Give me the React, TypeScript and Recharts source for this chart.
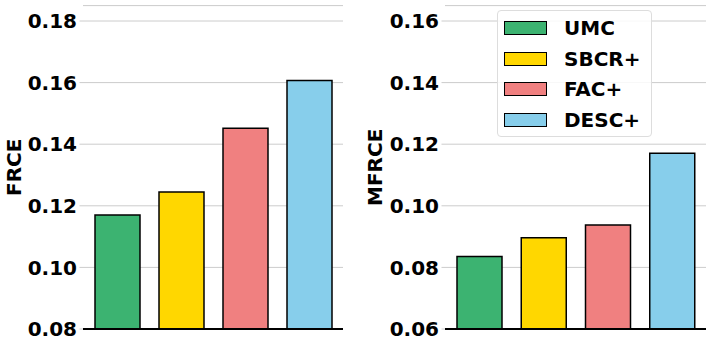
import React from 'react';
import { BarChart, Bar, XAxis, YAxis, CartesianGrid, Cell } from 'recharts';

const categories = ['UMC', 'SBCR+', 'FAC+', 'DESC+'];
const frceValues = [0.117, 0.1245, 0.1452, 0.1607];
const mfrceValues = [0.0835, 0.0896, 0.0938, 0.1171];
const colors = ['#3CB371', '#FFD700', '#F08080', '#87CEEB'];
const frceTicks = [0.08, 0.1, 0.12, 0.14, 0.16, 0.18];
const mfrceTicks = [0.06, 0.08, 0.1, 0.12, 0.14, 0.16];

const FONT = '"DejaVu Sans", sans-serif';

const frceData = categories.map((name, i) => ({ name, value: frceValues[i] }));
const mfrceData = categories.map((name, i) => ({ name, value: mfrceValues[i] }));

const tickStyle = { fontSize: 20, fontWeight: 'bold', fill: '#000', fontFamily: FONT };

function AxisLabel(props: any) {
  const { viewBox, value, cx } = props;
  const y = viewBox.y + viewBox.height / 2;
  return (
    <text
      x={cx}
      y={y}
      transform={`rotate(-90, ${cx}, ${y})`}
      textAnchor="middle"
      dominantBaseline="central"
      style={{ fontSize: 20, fontWeight: 'bold', fill: '#000', fontFamily: FONT }}
    >
      {value}
    </text>
  );
}

function LegendBox() {
  return (
    <div
      style={{
        position: 'absolute',
        left: 497,
        top: 10,
        width: 155,
        height: 127,
        border: '1px solid #ddd',
        borderRadius: 4,
        background: 'rgba(255,255,255,0.85)',
        boxSizing: 'border-box',
        paddingTop: 2,
      }}
    >
      {categories.map((c, i) => (
        <div key={c} style={{ display: 'flex', alignItems: 'center', height: 30.5 }}>
          <div
            style={{
              marginLeft: 6,
              width: 43,
              height: 14,
              background: colors[i],
              border: '1.5px solid #000',
              boxSizing: 'border-box',
            }}
          />
          <span
            style={{
              marginLeft: 17,
              fontSize: 20,
              fontWeight: 'bold',
              fontFamily: FONT,
              color: '#000',
              lineHeight: '20px',
            }}
          >
            {c}
          </span>
        </div>
      ))}
    </div>
  );
}

function Panel(props: {
  data: { name: string; value: number }[];
  domain: [number, number];
  ticks: number[];
  label: string;
  yWidth: number;
  rightMargin: number;
  labelX: number;
}) {
  const { data, domain, ticks, label, yWidth, rightMargin, labelX } = props;
  return (
    <BarChart
      width={355}
      height={347}
      data={data}
      margin={{ top: 5.6, right: rightMargin, bottom: 17, left: 0 }}
    >
      <CartesianGrid vertical={false} stroke="#cccccc" strokeWidth={1} />
      <XAxis
        dataKey="name"
        tick={false}
        tickLine={false}
        height={1}
        padding={{ left: 2, right: 2 }}
        axisLine={{ stroke: '#000', strokeWidth: 2 }}
      />
      <YAxis
        domain={domain}
        ticks={ticks}
        allowDataOverflow
        width={yWidth}
        axisLine={false}
        tickLine={{ stroke: '#cccccc', strokeWidth: 1 }}
        tickSize={3.5}
        tickMargin={2.5}
        tick={tickStyle}
        tickFormatter={(v: number) => v.toFixed(2)}
        label={<AxisLabel value={label} cx={labelX} />}
      />
      <Bar dataKey="value" barSize={45} stroke="#000" strokeWidth={1.5} isAnimationActive={false}>
        {data.map((d, i) => (
          <Cell key={d.name} fill={colors[i]} />
        ))}
      </Bar>
    </BarChart>
  );
}

export default function App() {
  return (
    <div style={{ position: 'absolute', left: 0, top: 0, width: 710, height: 347, background: '#fff' }}>
      <div style={{ position: 'absolute', left: 0, top: 0 }}>
        <Panel
          data={frceData}
          domain={[0.08, 0.185]}
          ticks={frceTicks}
          label="FRCE"
          yWidth={83}
          rightMargin={12}
          labelX={14.5}
        />
      </div>
      <div style={{ position: 'absolute', left: 355, top: 0 }}>
        <Panel
          data={mfrceData}
          domain={[0.06, 0.165]}
          ticks={mfrceTicks}
          label="MFRCE"
          yWidth={90}
          rightMargin={4}
          labelX={20.5}
        />
      </div>
      <LegendBox />
    </div>
  );
}
